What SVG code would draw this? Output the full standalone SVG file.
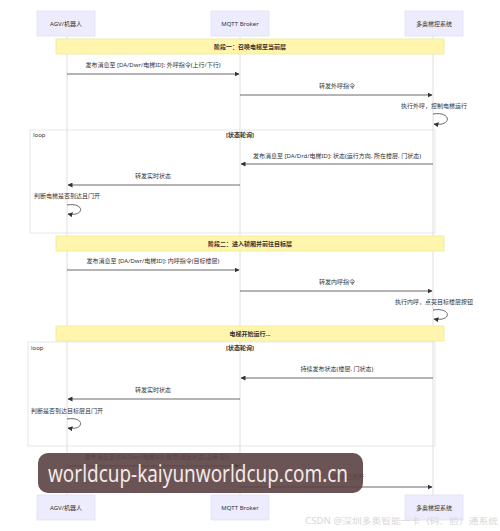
<svg xmlns="http://www.w3.org/2000/svg" width="500" height="531" viewBox="0 0 500 531">
<defs>
<marker id="ah" viewBox="0 0 10 10" refX="9" refY="5" markerWidth="5" markerHeight="5" orient="auto-start-reverse" markerUnits="userSpaceOnUse">
<path d="M0,0 L10,5 L0,10 z" fill="#333"/>
</marker>
<style>
.actor{fill:#ececfc;stroke:#e2e2f4;stroke-width:0.8}
.life{stroke:#d6d6d6;stroke-width:0.8}
.note{fill:#fff5ad;stroke:#ecec9a;stroke-width:0.8}
.loopbox{fill:none;stroke:#e0e0e0;stroke-width:0.8}
.msg{stroke:#444;stroke-width:0.8;fill:none;marker-end:url(#ah)}
text{font-family:"Noto Sans","Noto Sans CJK SC",sans-serif;font-size:6px;fill:#333}
.c{text-anchor:middle}
.b{font-weight:bold}
</style>
</defs>
<rect width="500" height="531" fill="#fff"/>
<g id="lifelines">
<line class="life" x1="67" y1="36" x2="67" y2="495"/>
<line class="life" x1="240" y1="36" x2="240" y2="495"/>
<line class="life" x1="433" y1="36" x2="433" y2="495"/>
</g>
<g id="actor-agv">
<rect class="actor" x="37" y="11" width="58" height="25"/>
<text class="c" x="66" y="25.5">AGV/机器人</text>
<rect class="actor" x="37" y="495" width="58" height="25"/>
<text class="c" x="66" y="509.5">AGV/机器人</text>
</g>
<g id="actor-mqtt">
<rect class="actor" x="211" y="11" width="58" height="25"/>
<text class="c" x="240" y="25.5">MQTT Broker</text>
<rect class="actor" x="211" y="495" width="58" height="25"/>
<text class="c" x="240" y="509.5">MQTT Broker</text>
</g>
<g id="actor-elev">
<rect class="actor" x="405" y="11" width="58" height="25"/>
<text class="c" x="434" y="25.5">多奥梯控系统</text>
<rect class="actor" x="405" y="495" width="58" height="25"/>
<text class="c" x="434" y="509.5">多奥梯控系统</text>
</g>
<g id="note-stage1">
<rect class="note" x="56" y="39" width="388" height="15"/>
<text class="c b" x="250" y="48.5">阶段一：召唤电梯至当前层</text>
</g>
<g id="loop1">
<rect class="loopbox" x="30" y="130" width="405" height="103"/>
<text x="33" y="137">loop</text>
<text class="c b" x="240" y="137">[状态轮询]</text>
</g>
<g id="note-stage2">
<rect class="note" x="56" y="236" width="388" height="15"/>
<text class="c b" x="250" y="245.5">阶段二：进入轿厢并前往目标层</text>
</g>
<g id="note-run">
<rect class="note" x="56" y="326" width="388" height="15"/>
<text class="c b" x="250" y="335.5">电梯开始运行...</text>
</g>
<g id="loop2">
<rect class="loopbox" x="28" y="342" width="407" height="104"/>
<text x="31" y="350">loop</text>
<text class="c b" x="240" y="350">[状态轮询]</text>
</g>
<g id="connectors">
<path class="msg" d="M67,74 H239"/>
<path class="msg" d="M240,95 H432"/>
<path class="msg" d="M433,114 C452,111 452,127 434,124"/>
<path class="msg" d="M433,164 H241"/>
<path class="msg" d="M240,185 H68"/>
<path class="msg" d="M67,205 C85,202 85,217 68,214"/>
<path class="msg" d="M67,270 H239"/>
<path class="msg" d="M240,291 H432"/>
<path class="msg" d="M433,310 C452,307 452,322 434,319"/>
<path class="msg" d="M433,378 H241"/>
<path class="msg" d="M240,399 H68"/>
<path class="msg" d="M67,419 C85,416 85,431 68,428"/>
<path class="msg" d="M67,466 H239"/>
<path class="msg" d="M240,487 H432"/>
</g>
<g id="labels">
<text class="c" x="153" y="67">发布消息至 [DA/Dwr/电梯ID]: 外呼指令(上行/下行)</text>
<text class="c" x="337" y="88">转发外呼指令</text>
<text class="c" x="434" y="108">执行外呼，控制电梯运行</text>
<text class="c" x="337" y="158">发布消息至 [DA/Drd/电梯ID]: 状态(运行方向, 所在楼层, 门状态)</text>
<text class="c" x="153" y="178">转发实时状态</text>
<text class="c" x="67" y="198">判断电梯是否到达且门开</text>
<text class="c" x="153" y="263">发布消息至 [DA/Dwr/电梯ID]: 内呼指令(目标楼层)</text>
<text class="c" x="337" y="284">转发内呼指令</text>
<text class="c" x="434" y="304">执行内呼，点亮目标楼层按钮</text>
<text class="c" x="337" y="371">持续发布状态(楼层, 门状态)</text>
<text class="c" x="153" y="392">转发实时状态</text>
<text class="c" x="67" y="413">判断是否到达目标层且门开</text>
<text class="c" x="157" y="459">发布消息至 [DA/Dwr/电梯ID]: 信号(进出状态(占用-空))</text>
<text class="c" x="337" y="479">转发：机器人已离开</text>
</g>
<g id="watermark">
<rect x="38" y="453" width="325" height="40" rx="10" fill="#5b4142" fill-opacity="0.9"/>
<text x="48" y="482" style="font-family:'Noto Sans',sans-serif;font-size:24px;fill:#f3e9e6" textLength="300" lengthAdjust="spacingAndGlyphs">worldcup-kaiyunworldcup.com.cn</text>
<text x="305" y="524" style="font-size:8.5px;fill:#d8d8d8" textLength="193" lengthAdjust="spacingAndGlyphs">CSDN @深圳多奥智能一卡（码、脸）通系统</text>
</g>
</svg>
